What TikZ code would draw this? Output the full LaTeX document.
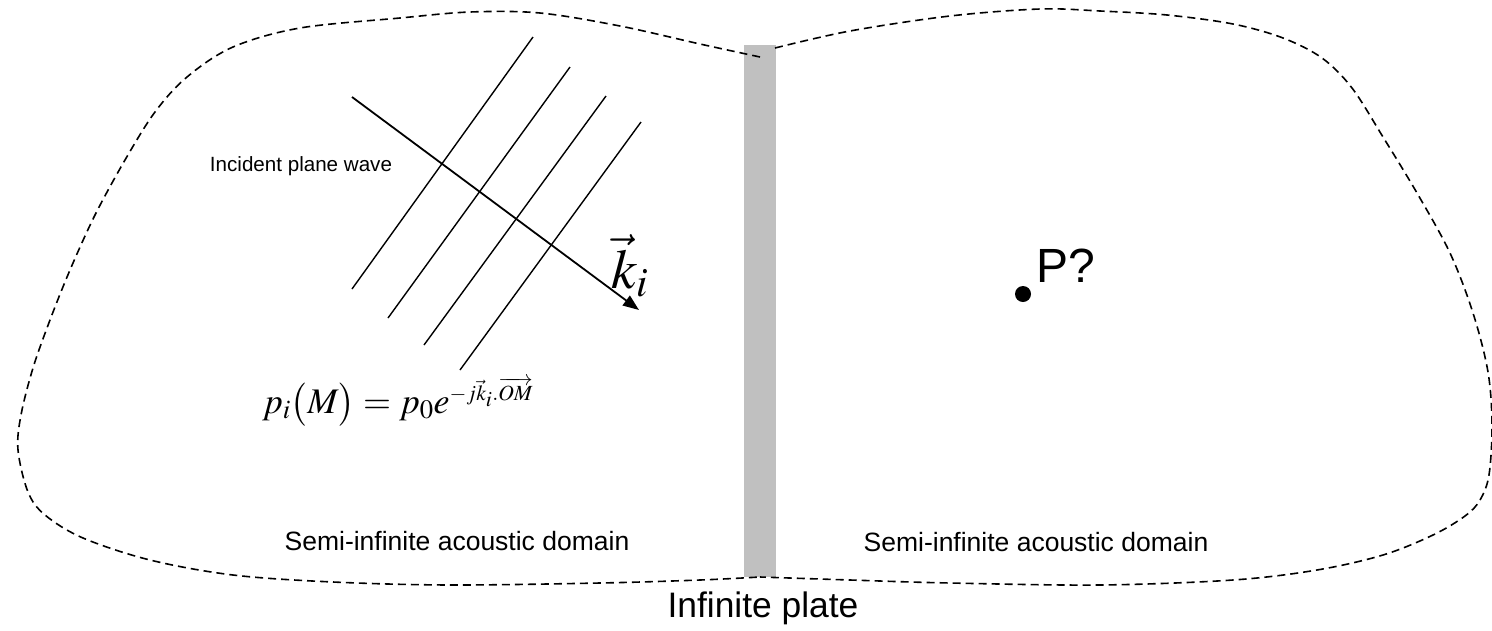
\documentclass[tikz,border=0pt]{standalone}
\usepackage{amsmath}
\usepackage{mathptmx}
\usepackage{fontspec}
\setmainfont{Liberation Sans}
\usetikzlibrary{arrows.meta}
\tikzset{
  boundary/.style={draw=black, line width=1.6pt, dash pattern=on 8pt off 5pt},
  wavefront/.style={draw=black, line width=1.4pt},
  label/.style={inner sep=0pt, text=black},
}
\begin{document}
\begin{tikzpicture}[x=1pt,y=-1pt]
\useasboundingbox (0,0) rectangle (1492,630);
% plate
\fill[fill={rgb,255:red,192;green,192;blue,192}] (744,45) rectangle (776,577);
% left lobe
\draw[boundary] plot[smooth, tension=0.55] coordinates {(760,57) (700,44) (620,26) (540,13) (470,12) (400,18) (300,28) (233,47) (187,77) (155,112) (125,160) (95,215) (70,270) (50,320) (33,368) (21,415) (18,450) (28,492) (45,515) (83,538) (150,560) (233,575) (333,582) (450,585) (600,583) (700,580) (760,577)};
% right lobe
\draw[boundary] plot[smooth, tension=0.55] coordinates {(775,48) (850,31) (950,16) (1040,9) (1100,11) (1167,15) (1233,24) (1283,38) (1322,58) (1352,88) (1383,137) (1417,193) (1450,253) (1473,313) (1488,372) (1492,425) (1489,475) (1480,500) (1465,516) (1433,535) (1383,555) (1317,570) (1233,580) (1100,585) (950,583) (850,580) (760,577)};
% wave fronts
\coordinate (w1a) at (533,37);  \coordinate (w1b) at (352,289);
\coordinate (w2a) at (570,67);  \coordinate (w2b) at (388,318);
\coordinate (w3a) at (606,96);  \coordinate (w3b) at (424,345);
\coordinate (w4a) at (641,122); \coordinate (w4b) at (460,370);
\draw[wavefront] (w1a) -- (w1b);
\draw[wavefront] (w2a) -- (w2b);
\draw[wavefront] (w3a) -- (w3b);
\draw[wavefront] (w4a) -- (w4b);
% wave vector
\coordinate (ka) at (352,97);
\coordinate (kb) at (639,310);
\draw[line width=1.8pt, -{Triangle[length=16pt,width=12pt]}] (ka) -- (kb);
\node[label, font=\fontsize{56}{60}\selectfont] (klab) at (630,266) {$\vec{k}_i$};
% labels
\node[label, font=\fontsize{20.6}{24}\selectfont] (inc) at (301,166) {Incident plane wave};
\node[label, anchor=west, font=\fontsize{36}{40}\selectfont] (form) at (262,402) {$p_i\bigl(M\bigr) = p_0 e^{\scriptscriptstyle -j\vec{k}_i.\overrightarrow{OM}}$};
\node[label, font=\fontsize{26.5}{30}\selectfont] (domL) at (457,541) {Semi-infinite acoustic domain};
\node[label, font=\fontsize{26.5}{30}\selectfont] (domR) at (1036,542) {Semi-infinite acoustic domain};
\node[label, font=\fontsize{35.4}{40}\selectfont] (plate) at (763,608) {Infinite plate};
\node[circle, fill=black, inner sep=0pt, minimum size=16pt] (P) at (1023,294) {};
\node[label, anchor=base west, font=\fontsize{48}{52}\selectfont] (Plab) at (1036,282) {P?};
\end{tikzpicture}
\end{document}
